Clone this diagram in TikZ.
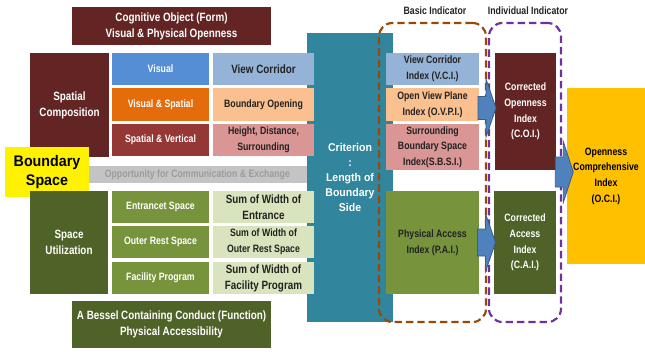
\documentclass[tikz,border=0pt]{standalone}
\usepackage{fontspec}
\setmainfont{Liberation Sans}
\newfontfamily\narrowfont[FakeStretch=0.82]{Liberation Sans}
\newfontfamily\widefont[FakeStretch=0.93]{Liberation Sans}
\usetikzlibrary{calc}

\definecolor{maroon}{HTML}{632523}
\definecolor{visblue}{HTML}{558ED5}
\definecolor{visorange}{HTML}{E46C0A}
\definecolor{vertred}{HTML}{953735}
\definecolor{paleblue}{HTML}{95B3D7}
\definecolor{peach}{HTML}{FAC090}
\definecolor{rose}{HTML}{D99694}
\definecolor{barbg}{HTML}{C4C4C4}
\definecolor{bartext}{HTML}{9C9C9C}
\definecolor{teal}{HTML}{31859C}
\definecolor{darkgreen}{HTML}{4F6228}
\definecolor{midgreen}{HTML}{77933C}
\definecolor{palegreen}{HTML}{D7E4BD}
\definecolor{amber}{HTML}{FFC000}
\definecolor{framebrown}{HTML}{984807}
\definecolor{framepurple}{HTML}{7030A0}
\definecolor{arrowblue}{HTML}{4F81BD}
\definecolor{arrowedge}{HTML}{385D8A}
\definecolor{ink}{HTML}{222222}

\begin{document}
\begin{tikzpicture}[x=0.75pt,y=-0.75pt,
  cell/.style args={#1/#2/#3/#4}{rectangle, inner sep=0pt, align=center,
    minimum width={(#3-#1)*0.75pt}, minimum height={(#4-#2)*0.75pt},
    at={({(#1+#3)/2},{(#2+#4)/2})}},
  big/.style={font=\narrowfont\bfseries\fontsize{9}{12}\selectfont},
  small/.style={font=\narrowfont\bfseries\fontsize{8}{11.7}\selectfont},
  dark/.style={fill=#1, text=white},
  light/.style={fill=#1, text=ink},
  frame/.style={draw=#1, line width=1.6pt, dash pattern=on 5.5pt off 3pt,
    rounded corners=10pt},
  pics/blockarr/.style args={#1/#2}{code={
    \draw[fill=arrowblue, draw=arrowedge, line width=0.6pt]
      (-9,-#1) -- (-1,-#1) -- (-1,-#2) -- (9,0) -- (-1,#2) -- (-1,#1)
      -- (-9,#1) -- cycle;}}
]
\useasboundingbox (0,0) rectangle (645,351);

% criterion column sits behind the rows that overlap it
\node[cell=307/33/393/322, dark=teal,
  font=\widefont\bfseries\fontsize{8.5}{11.3}\selectfont]
  (crit) {Criterion\\:\\Length of\\Boundary\\Side};

% form / openness branch
\node[cell=72/7/271/45, dark=maroon, big] (cog)
  {Cognitive Object (Form)\\Visual \& Physical Openness};
\node[cell=30/53/109/157, dark=maroon, big] (spcomp) {Spatial\\Composition};
\node[cell=112/53/209/85, dark=visblue, small] (visual) {Visual};
\node[cell=112/88/209/121, dark=visorange, small] (visspat) {Visual \& Spatial};
\node[cell=112/124/209/156, dark=vertred, small] (spvert) {Spatial \& Vertical};
\node[cell=213/53/314/85, light=paleblue, big] (vc) {View Corridor};
\node[cell=213/88/314/121, light=peach, small] (bo) {Boundary Opening};
\node[cell=213/124/314/156, light=rose, small] (hds) {Height, Distance,\\Surrounding};

% shared band
\node[cell=85/166/307/183, fill=barbg, text=bartext, small] (opp)
  {\hspace*{2pt}Opportunity for Communication \& Exchange};
\node[cell=5/147/89/197, fill=yellow, text=black,
  font=\widefont\bfseries\fontsize{11.5}{14}\selectfont] (bspace) {Boundary\\Space};

% function / accessibility branch
\node[cell=30/191/108/294, dark=darkgreen, big] (spuse) {Space\\Utilization};
\node[cell=112/191/209/223, dark=midgreen, small] (ent) {Entrancet Space};
\node[cell=112/226/209/258, dark=midgreen, small] (outer) {Outer Rest Space};
\node[cell=112/262/209/294, dark=midgreen, small] (fac) {Facility Program};
\node[cell=213/191/314/223, light=palegreen, big] (sw1) {Sum of Width of\\Entrance};
\node[cell=213/226/314/258, light=palegreen, small] (sw2) {Sum of Width of\\Outer Rest Space};
\node[cell=213/262/314/294, light=palegreen, big] (sw3) {Sum of Width of\\Facility Program};
\node[cell=72/301/271/348, dark=darkgreen, big] (bessel)
  {A Bessel Containing Conduct (Function)\\Physical Accessibility};

% basic indicators
\node[cell=386/53/479/85, light=paleblue, small] (vci) {View Corridor\\Index (V.C.I.)};
\node[cell=386/88/479/121, light=peach, small] (ovpi) {Open View Plane\\Index (O.V.P.I.)};
\node[cell=386/124/479/170, light=rose, small] (sbsi) {Surrounding\\Boundary Space\\Index(S.B.S.I.)};
\node[cell=386/191/479/294, light=midgreen, small] (pai) {Physical Access\\Index (P.A.I.)};

% individual indicators and the final index
\node[cell=495/53/556/170, dark=maroon, small] (coi) {Corrected\\Openness\\Index\\(C.O.I.)};
\node[cell=494/191/556/294, dark=darkgreen, small] (cai) {Corrected\\Access\\Index\\(C.A.I.)};
\node[cell=567/88/645/264, light=amber, small, text=black] (oci)
  {Openness\\Comprehensive\\Index\\(O.C.I.)};

% grouping frames and their captions
\node[cell=379/23/486/322, frame=framebrown] (basic) {};
\node[cell=489/23/561/322, frame=framepurple] (indiv) {};
\node[small, text=ink] (basiclbl) at (435,11) {Basic Indicator};
\node[small, text=ink] (indivlbl) at (528,11) {Individual Indicator};

% block arrows between indicator stages
\pic at ($(ovpi.east)!0.5!(coi.west)$) {blockarr=11.5/29};
\pic at ($(pai.east)!0.5!(cai.west)$) {blockarr=13.5/29};
\pic at ($(coi.east |- oci.west)+(8,-4)$) {blockarr=15/30.5};
\end{tikzpicture}
\end{document}
